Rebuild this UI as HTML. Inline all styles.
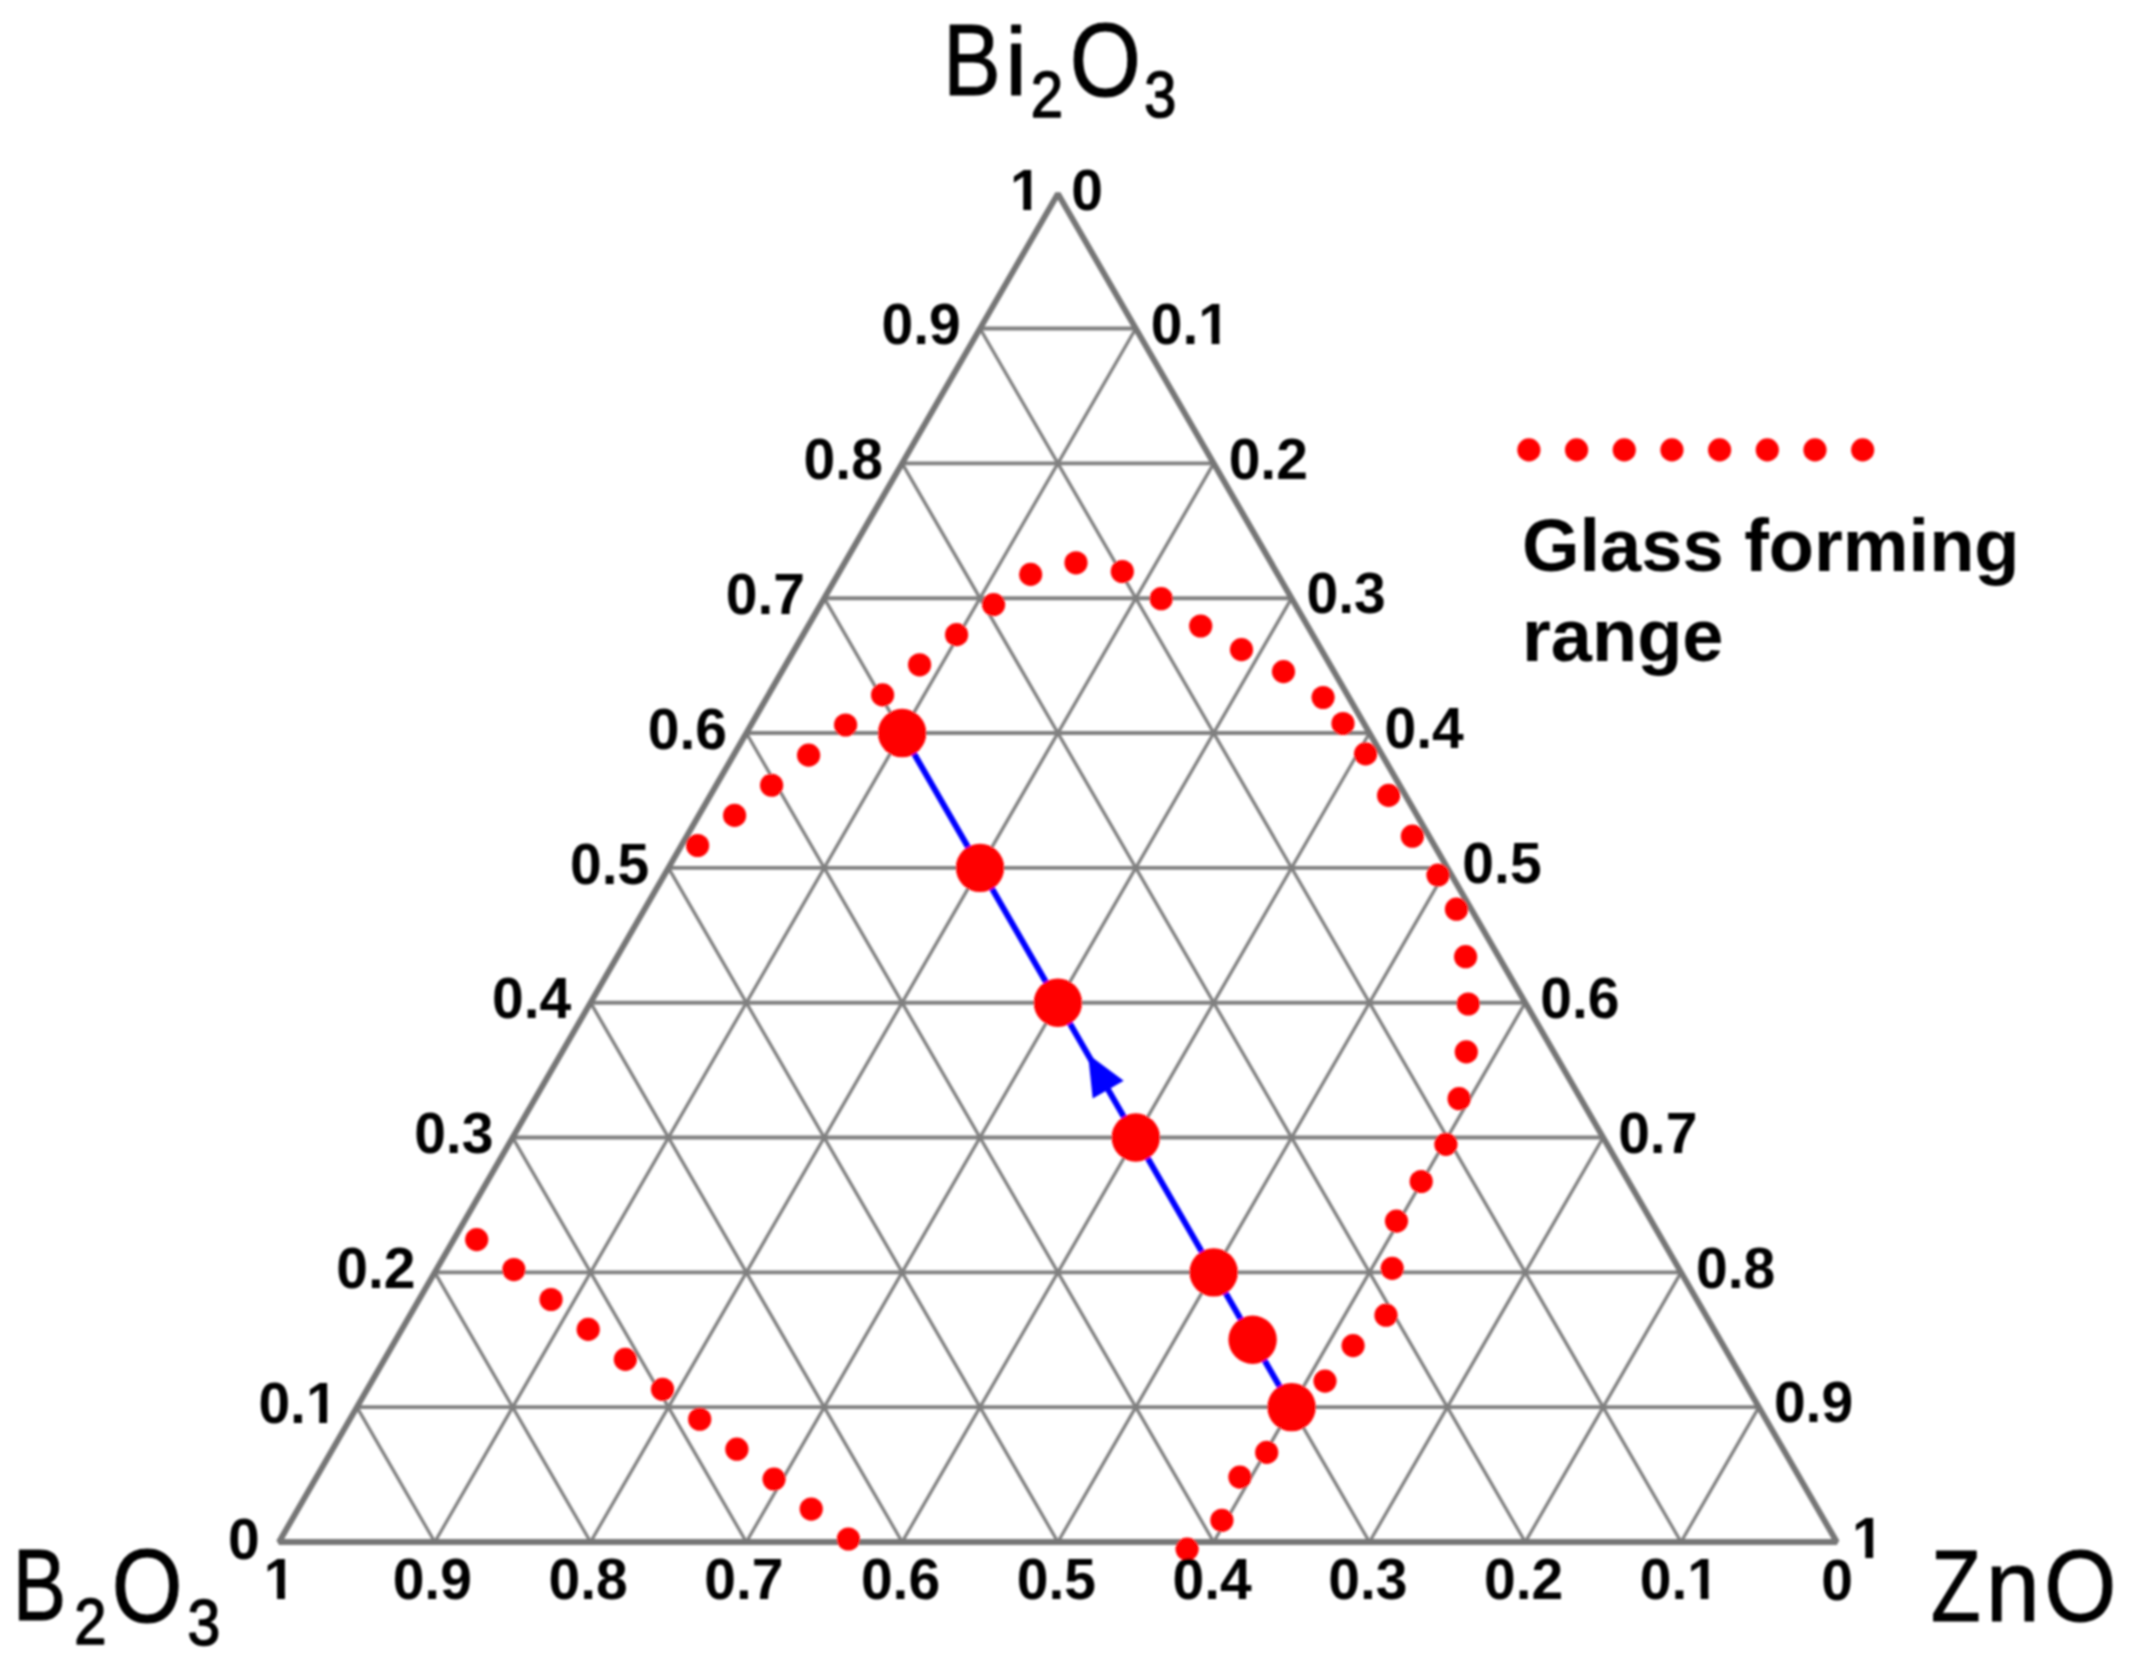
<!DOCTYPE html>
<html lang="en"><head><meta charset="utf-8"><title>Bi2O3-B2O3-ZnO ternary diagram</title>
<style>
html,body{margin:0;padding:0;background:#fff;}
body{width:2134px;height:1667px;overflow:hidden;}
svg{display:block;}
.tick{font-family:"Liberation Sans",sans-serif;font-weight:bold;font-size:57px;fill:#000;}
.lab{font-family:"Liberation Sans",sans-serif;font-weight:normal;fill:#000;}
.leg{font-family:"Liberation Sans",sans-serif;font-weight:bold;font-size:74px;fill:#000;}
</style></head><body>
<svg width="2134" height="1667" viewBox="0 0 2134 1667">
<defs><filter id="soft" x="0" y="0" width="100%" height="100%" filterUnits="userSpaceOnUse" primitiveUnits="userSpaceOnUse"><feGaussianBlur stdDeviation="0.9"/></filter><clipPath id="one" clipPathUnits="userSpaceOnUse"><rect x="-5" y="-50" width="50" height="43.9"/><rect x="13.3" y="-6.5" width="7.85" height="8"/></clipPath></defs>
<rect x="0" y="0" width="2134" height="1667" fill="#fff"/>
<g filter="url(#soft)">
<g stroke="#808080" stroke-width="3.3" fill="none" stroke-linecap="butt">
<line x1="356.89" y1="1407.17" x2="1758.91" y2="1407.17" stroke-width="3.9"/>
<line x1="434.78" y1="1542" x2="356.89" y2="1407.17"/>
<line x1="434.78" y1="1542" x2="1135.79" y2="328.53"/>
<line x1="434.78" y1="1272.34" x2="1681.02" y2="1272.34" stroke-width="3.9"/>
<line x1="590.56" y1="1542" x2="434.78" y2="1272.34"/>
<line x1="590.56" y1="1542" x2="1213.68" y2="463.36"/>
<line x1="512.67" y1="1137.51" x2="1603.13" y2="1137.51" stroke-width="3.9"/>
<line x1="746.34" y1="1542" x2="512.67" y2="1137.51"/>
<line x1="746.34" y1="1542" x2="1291.57" y2="598.19"/>
<line x1="590.56" y1="1002.68" x2="1525.24" y2="1002.68" stroke-width="3.9"/>
<line x1="902.12" y1="1542" x2="590.56" y2="1002.68"/>
<line x1="902.12" y1="1542" x2="1369.46" y2="733.02"/>
<line x1="668.45" y1="867.85" x2="1447.35" y2="867.85" stroke-width="3.9"/>
<line x1="1057.9" y1="1542" x2="668.45" y2="867.85"/>
<line x1="1057.9" y1="1542" x2="1447.35" y2="867.85"/>
<line x1="746.34" y1="733.02" x2="1369.46" y2="733.02" stroke-width="3.9"/>
<line x1="1213.68" y1="1542" x2="746.34" y2="733.02"/>
<line x1="1213.68" y1="1542" x2="1525.24" y2="1002.68"/>
<line x1="824.23" y1="598.19" x2="1291.57" y2="598.19" stroke-width="3.9"/>
<line x1="1369.46" y1="1542" x2="824.23" y2="598.19"/>
<line x1="1369.46" y1="1542" x2="1603.13" y2="1137.51"/>
<line x1="902.12" y1="463.36" x2="1213.68" y2="463.36" stroke-width="3.9"/>
<line x1="1525.24" y1="1542" x2="902.12" y2="463.36"/>
<line x1="1525.24" y1="1542" x2="1681.02" y2="1272.34"/>
<line x1="980.01" y1="328.53" x2="1135.79" y2="328.53" stroke-width="3.9"/>
<line x1="1681.02" y1="1542" x2="980.01" y2="328.53"/>
<line x1="1681.02" y1="1542" x2="1758.91" y2="1407.17"/>
</g>
<polygon points="1057.9,193.7 279,1542 1836.8,1542" fill="none" stroke="#767676" stroke-width="5.9" stroke-linejoin="bevel"/>
<line x1="902.12" y1="733.02" x2="1291.57" y2="1407.17" stroke="#0000ff" stroke-width="6"/>
<polygon points="1088,1054.3 1092.7,1098.5 1123.7,1080.7" fill="#0000ff"/>
<g fill="#ff0000">
<circle cx="476.7" cy="1239.6" r="11.6"/>
<circle cx="513.87" cy="1269.54" r="11.6"/>
<circle cx="551.04" cy="1299.48" r="11.6"/>
<circle cx="588.21" cy="1329.42" r="11.6"/>
<circle cx="625.38" cy="1359.36" r="11.6"/>
<circle cx="662.55" cy="1389.3" r="11.6"/>
<circle cx="699.72" cy="1419.24" r="11.6"/>
<circle cx="736.89" cy="1449.18" r="11.6"/>
<circle cx="774.06" cy="1479.12" r="11.6"/>
<circle cx="811.23" cy="1509.06" r="11.6"/>
<circle cx="848.4" cy="1539" r="11.6"/>
<circle cx="697.6" cy="845.5" r="11.6"/>
<circle cx="734.6" cy="815.38" r="11.6"/>
<circle cx="771.6" cy="785.26" r="11.6"/>
<circle cx="808.6" cy="755.14" r="11.6"/>
<circle cx="845.6" cy="725.02" r="11.6"/>
<circle cx="882.6" cy="694.9" r="11.6"/>
<circle cx="919.6" cy="664.78" r="11.6"/>
<circle cx="956.6" cy="634.66" r="11.6"/>
<circle cx="993.6" cy="604.54" r="11.6"/>
<circle cx="1030.6" cy="574.42" r="11.6"/>
<circle cx="1076" cy="562.8" r="11.6"/>
<circle cx="1122.3" cy="571.5" r="11.6"/>
<circle cx="1161.2" cy="598.7" r="11.6"/>
<circle cx="1200.7" cy="626" r="11.6"/>
<circle cx="1241.5" cy="649.6" r="11.6"/>
<circle cx="1283.5" cy="671.6" r="11.6"/>
<circle cx="1323.1" cy="697.5" r="11.6"/>
<circle cx="1343" cy="723.5" r="11.6"/>
<circle cx="1365.6" cy="753.9" r="11.6"/>
<circle cx="1388.6" cy="795.4" r="11.6"/>
<circle cx="1412.4" cy="836.2" r="11.6"/>
<circle cx="1438" cy="875" r="11.6"/>
<circle cx="1456.5" cy="909.2" r="11.6"/>
<circle cx="1465.6" cy="956.7" r="11.6"/>
<circle cx="1468.2" cy="1004" r="11.6"/>
<circle cx="1466.3" cy="1051.9" r="11.6"/>
<circle cx="1459.1" cy="1098.7" r="11.6"/>
<circle cx="1445.9" cy="1144.3" r="11.6"/>
<circle cx="1421.2" cy="1181.5" r="11.6"/>
<circle cx="1396.5" cy="1221.1" r="11.6"/>
<circle cx="1392.2" cy="1268.4" r="11.6"/>
<circle cx="1386" cy="1315.2" r="11.6"/>
<circle cx="1353.1" cy="1345.6" r="11.6"/>
<circle cx="1325" cy="1381.1" r="11.6"/>
<circle cx="1266.7" cy="1452.4" r="11.6"/>
<circle cx="1239.9" cy="1477.1" r="11.6"/>
<circle cx="1221.9" cy="1520.3" r="11.6"/>
<circle cx="1187.1" cy="1549.1" r="11.6"/>
<circle cx="1528.9" cy="449.9" r="11.6"/>
<circle cx="1576.58" cy="449.9" r="11.6"/>
<circle cx="1624.26" cy="449.9" r="11.6"/>
<circle cx="1671.94" cy="449.9" r="11.6"/>
<circle cx="1719.62" cy="449.9" r="11.6"/>
<circle cx="1767.3" cy="449.9" r="11.6"/>
<circle cx="1814.98" cy="449.9" r="11.6"/>
<circle cx="1862.66" cy="449.9" r="11.6"/>
<circle cx="902.12" cy="733.02" r="24.2"/>
<circle cx="980.01" cy="867.85" r="24.2"/>
<circle cx="1057.9" cy="1002.68" r="24.2"/>
<circle cx="1135.79" cy="1137.51" r="24.2"/>
<circle cx="1213.68" cy="1272.34" r="24.2"/>
<circle cx="1252.62" cy="1339.76" r="24.2"/>
<circle cx="1291.57" cy="1407.17" r="24.2"/>
</g>
<g class="tick">
<text x="258.39" y="1422.97">0.</text>
<g transform="translate(305.93,1422.97)"><text x="0" y="0" clip-path="url(#one)">1</text></g>
<text x="1773.91" y="1422.47">0.9</text>
<text x="392.66" y="1599.2">0.9</text>
<text x="336.28" y="1288.14">0.2</text>
<text x="1696.02" y="1287.64">0.8</text>
<text x="548.44" y="1599.2">0.8</text>
<text x="414.17" y="1153.31">0.3</text>
<text x="1618.13" y="1152.81">0.7</text>
<text x="704.22" y="1599.2">0.7</text>
<text x="492.06" y="1018.48">0.4</text>
<text x="1540.24" y="1017.98">0.6</text>
<text x="860.9" y="1599.2">0.6</text>
<text x="569.95" y="883.65">0.5</text>
<text x="1462.35" y="883.15">0.5</text>
<text x="1016.69" y="1599.2">0.5</text>
<text x="647.84" y="748.82">0.6</text>
<text x="1384.46" y="748.32">0.4</text>
<text x="1172.46" y="1599.2">0.4</text>
<text x="725.73" y="613.99">0.7</text>
<text x="1306.57" y="613.49">0.3</text>
<text x="1328.24" y="1599.2">0.3</text>
<text x="803.62" y="479.16">0.8</text>
<text x="1228.68" y="478.66">0.2</text>
<text x="1484.03" y="1599.2">0.2</text>
<text x="881.51" y="344.33">0.9</text>
<text x="1150.79" y="343.83">0.</text>
<g transform="translate(1198.33,343.83)"><text x="0" y="0" clip-path="url(#one)">1</text></g>
<text x="1639.81" y="1599.2">0.</text>
<g transform="translate(1687.34,1599.2)"><text x="0" y="0" clip-path="url(#one)">1</text></g>
<g transform="translate(1010,210)"><text x="0" y="0" clip-path="url(#one)">1</text></g>
<text x="1071.2" y="210.3">0</text>
<text x="228" y="1559">0</text>
<g transform="translate(263.8,1599)"><text x="0" y="0" clip-path="url(#one)">1</text></g>
<g transform="translate(1852,1557.5)"><text x="0" y="0" clip-path="url(#one)">1</text></g>
<text x="1821.2" y="1599.8">0</text>
</g>
<g>
<text class="lab" font-size="101.5" stroke="#000" stroke-width="1.08" stroke-linejoin="round" transform="translate(942.99,95.2) scale(0.8537,1.0000)">B</text>
<text class="lab" font-size="101.5" stroke="#000" stroke-width="1.01" stroke-linejoin="round" transform="translate(1005,95.2) scale(0.9852,0.9570)">i</text>
<text class="lab" font-size="65.5" stroke="#000" stroke-width="1.59" stroke-linejoin="round" transform="translate(1030.84,117.3) scale(0.8872,1.0000)">2</text>
<text class="lab" font-size="101.5" stroke="#000" stroke-width="1.05" stroke-linejoin="round" transform="translate(1069.8,96.1) scale(0.9016,1.0150)">O</text>
<text class="lab" font-size="65.5" stroke="#000" stroke-width="1.6" stroke-linejoin="round" transform="translate(1144.26,117) scale(0.8793,1.0000)">3</text>
<text class="lab" font-size="101.5" stroke="#000" stroke-width="1.12" stroke-linejoin="round" transform="translate(12.63,1620.3) scale(0.7889,1.0000)">B</text>
<text class="lab" font-size="65.5" stroke="#000" stroke-width="1.59" stroke-linejoin="round" transform="translate(74.26,1644.3) scale(0.8839,1.0000)">2</text>
<text class="lab" font-size="101.5" stroke="#000" stroke-width="1.05" stroke-linejoin="round" transform="translate(111.63,1621.6) scale(0.8958,1.0250)">O</text>
<text class="lab" font-size="65.5" stroke="#000" stroke-width="1.58" stroke-linejoin="round" transform="translate(187.41,1645) scale(0.8986,1.0000)">3</text>
<text class="lab" font-size="101.5" stroke="#000" stroke-width="1.11" stroke-linejoin="round" transform="translate(1930.9,1620.8) scale(0.8000,1.0000)">Z</text>
<text class="lab" font-size="101.5" stroke="#000" stroke-width="1.02" stroke-linejoin="round" transform="translate(1985.77,1620.8) scale(0.9597,1.0000)">n</text>
<text class="lab" font-size="101.5" stroke="#000" stroke-width="1.05" stroke-linejoin="round" transform="translate(2044.14,1621.3) scale(0.9131,1.0120)">O</text>
</g>
<text class="leg" x="1522" y="571">Glass forming</text>
<text class="leg" x="1522" y="661">range</text>
</g>
</svg>
</body></html>
